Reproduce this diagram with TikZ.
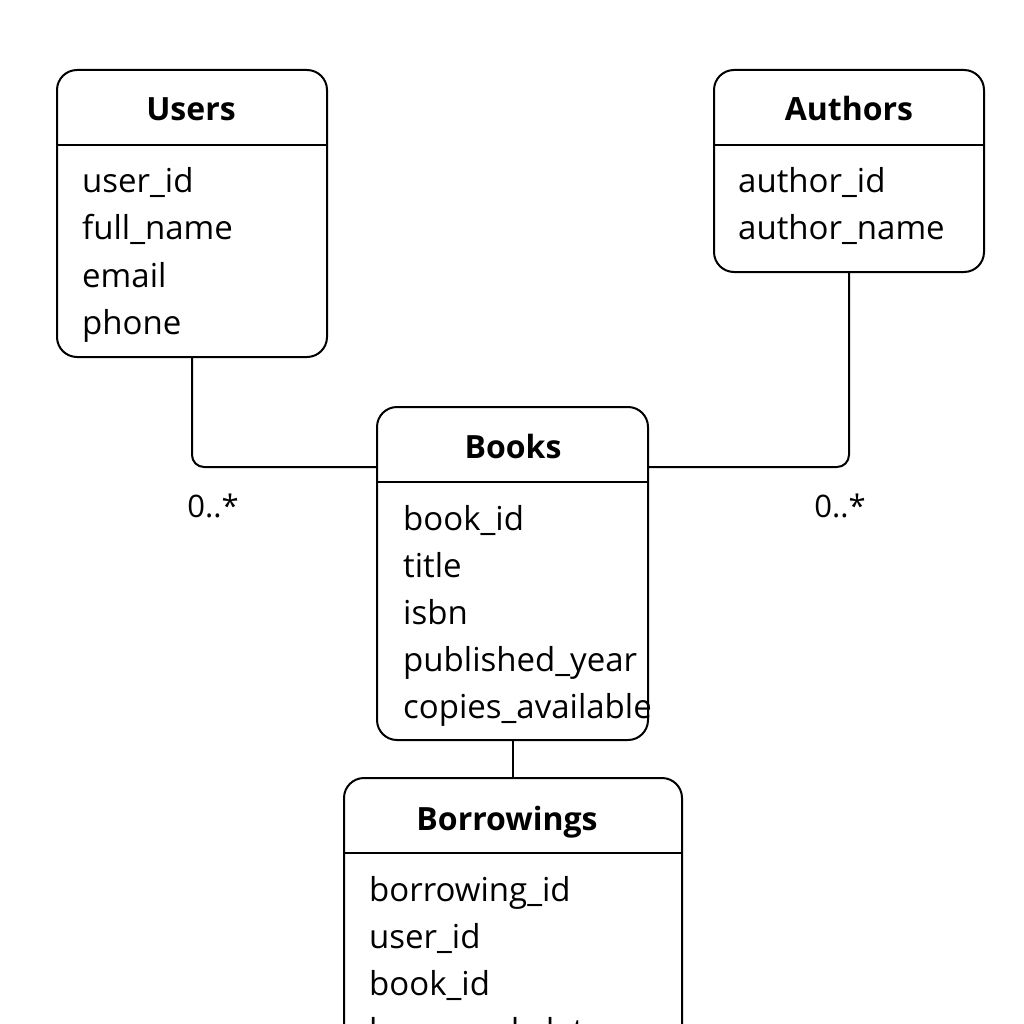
\documentclass[tikz,border=0pt]{standalone}
\usepackage{fontspec}
\setmainfont{Open Sans}
\usetikzlibrary{positioning}
\tikzset{
	table/.style = {
		draw,
		line width = 2pt,
		rounded corners = 20pt,
		inner sep = 0pt
	},
	title/.style = {
		anchor = base,
		inner sep = 0pt,
		font = \fontsize{32}{38}\selectfont\bfseries
	},
	field/.style = {
		anchor = base west,
		inner sep = 0pt,
		font = \fontsize{33}{39}\selectfont
	},
	link/.style = {
		line width = 2pt,
		rounded corners = 12pt
	},
	mult/.style = {
		anchor = base,
		inner sep = 0pt,
		font = \fontsize{31}{37}\selectfont
	}
}

\begin{document}
\begin{tikzpicture}[x=1pt, y=-1pt]
		\useasboundingbox (0,0) rectangle (1024,1024);
		\clip (0,0) rectangle (1024,1024);

		% tables
		\node[table, minimum width=270pt, minimum height=287pt] (users)      at (192,213.5) {};
		\node[table, minimum width=270pt, minimum height=202pt] (authors)    at (849,171)   {};
		\node[table, minimum width=271pt, minimum height=333pt] (books)      at (512.5,573.5) {};
		\node[table, minimum width=338pt, minimum height=340pt] (borrowings) at (513,948)   {};

		\foreach \t in {users, authors, books, borrowings}
			\draw[line width=2pt] ([yshift=-76pt]\t.north west) -- ([yshift=-76pt]\t.north east);

		\node[title] (users-title)      at (191,121) {Users};
		\node[title] (authors-title)    at (849,121) {Authors};
		\node[title] (books-title)      at (513,458) {Books};
		\node[title] (borrowings-title) at (507,830) {Borrowings};

		% fields
		\foreach \f [count=\i] in {user\_id, full\_name, email, phone}
			\node[field] (users-f\i) at (82,{146+47*\i}) {\f};
		\foreach \f [count=\i] in {author\_id, author\_name}
			\node[field] (authors-f\i) at (738,{146+47*\i}) {\f};
		\foreach \f [count=\i] in {book\_id, title, isbn, published\_year, copies\_available}
			\node[field] (books-f\i) at (403,{483+47*\i}) {\f};
		\foreach \f [count=\i] in {borrowing\_id, user\_id, book\_id, borrowed\_date}
			\node[field] (borrowings-f\i) at (369,{854+47*\i}) {\f};

		% relations
		\coordinate (books-l) at ([yshift=-61pt]books.north west);
		\coordinate (books-r) at ([yshift=-61pt]books.north east);
		\draw[link] (users.south) |- (books-l);
		\draw[link] (authors.south) |- (books-r);
		\draw[link] (books.south) -- (books.south |- borrowings.north);

		\node[mult] (users-mult)   at (213,517) {0..*};
		\node[mult] (authors-mult) at (840,517) {0..*};

	\end{tikzpicture}
\end{document}
